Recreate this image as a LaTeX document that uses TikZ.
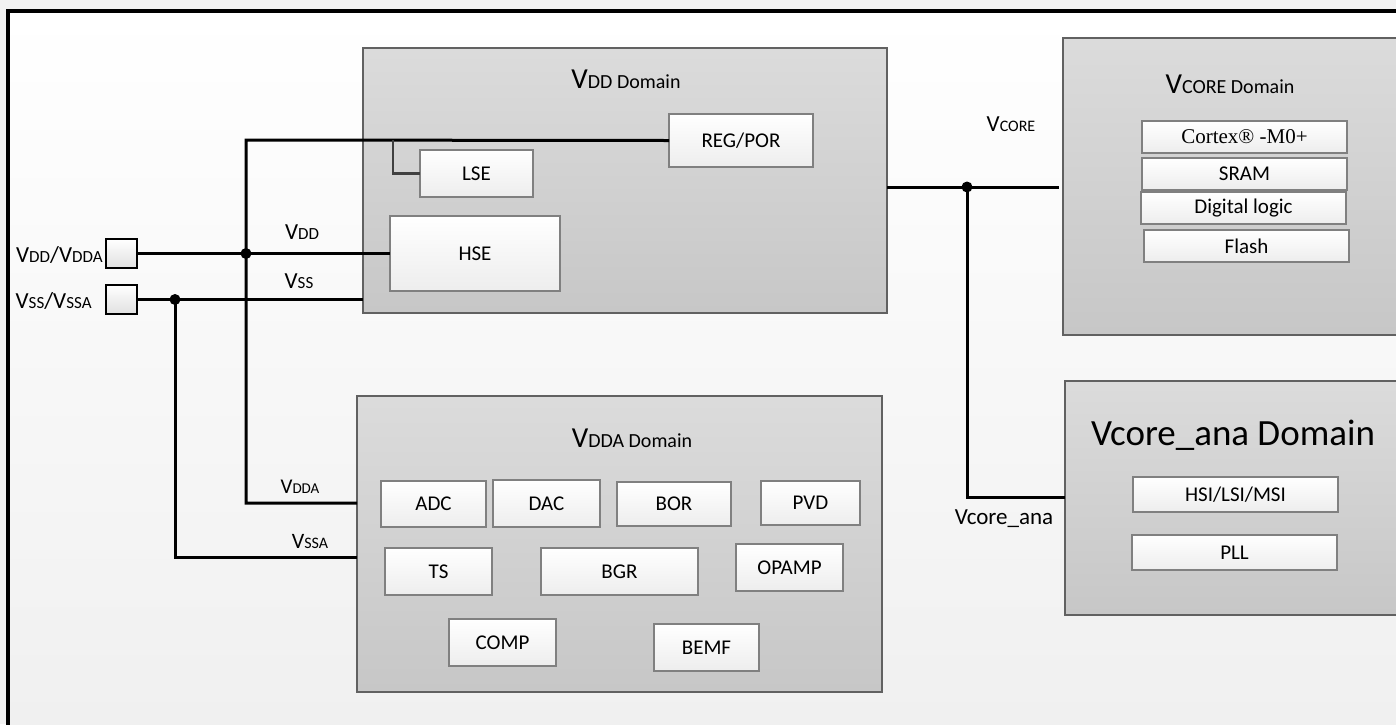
\documentclass[tikz,border=0pt]{standalone}
\usepackage{fontspec}
\setmainfont{Carlito}
\newfontfamily\tnr{Liberation Serif}
\newcommand\fs[1]{\fontsize{#1}{#1}\selectfont}
\begin{document}
\begin{tikzpicture}[x=0.5pt,y=-0.5pt,
  wire/.style={line width=1.5pt, black},
  thin wire/.style={line width=1.2pt, black!75},
  dom/.style={draw=black!62, line width=0.9pt, top color=black!14, bottom color=black!22, inner sep=0pt, outer sep=0pt, anchor=north west},
  blk/.style={draw=black!50, line width=0.7pt, top color=white, bottom color=black!7, inner sep=0pt, outer sep=0pt, anchor=north west, font=\fs{10.5}},
  pad/.style={draw=black, line width=1.4pt, top color=white, bottom color=black!12, inner sep=0pt, outer sep=0pt, anchor=north west},
  sz/.style 2 args={minimum width=#1*0.5pt, minimum height=#2*0.5pt},
  dot/.style={circle, fill=black, inner sep=0pt, minimum size=5.5pt},
  lbl/.style={inner sep=0pt, anchor=base}]
\useasboundingbox (0,0) rectangle (1396,724);
\clip (0,0) rectangle (1396,724);
% background and outer frame
\fill[black!5] (0,0) rectangle (1396,724);
\shade[top color=white, bottom color=black!6] (7.5,10.5) rectangle (1420,740);
\draw[line width=2pt] (7.5,10.5) rectangle (1420,740);

% domains
\node[dom, sz={524}{265}] (vdd) at (363,48) {};
\node[dom, sz={357}{297}] (vcore) at (1063,38) {};
\node[dom, sz={355}{234}] (cana) at (1065,381) {};
\node[dom, sz={525}{296}] (vdda) at (357,396) {};

% domain titles
\node[lbl] (tvdd) at (626,88) {\fs{14.5}V\fs{10}DD Domain};
\node[lbl] (tvcore) at (1230,93) {\fs{14.5}V\fs{10}CORE Domain};
\node[lbl] (tvdda) at (632,447) {\fs{14.5}V\fs{10}DDA Domain};
\node[lbl] (tcana) at (1233,445) {\fs{18.5}Vcore\_ana Domain};

% VDD domain blocks
\node[blk, sz={144}{53}] (reg) at (669,114) {REG/POR};
\node[blk, sz={113}{47}] (lse) at (420,150) {LSE};
\node[blk, sz={170}{75}] (hse) at (390,216) {HSE};

% VCORE domain blocks
\node[blk, sz={205}{32}] (cortex) at (1142,121) {\tnr\fs{10.5}Cortex® -M0+};
\node[blk, sz={205}{32}] (sram) at (1142,158) {SRAM};
\node[blk, sz={205}{32}] (dig) at (1141,192) {Digital logic};
\node[blk, sz={205}{32}] (flash) at (1144,230) {Flash};

% Vcore_ana blocks
\node[blk, sz={205}{35}] (hsi) at (1133,477) {HSI/LSI/MSI};
\node[blk, sz={205}{35}] (pll) at (1132,535) {PLL};

% VDDA blocks
\node[blk, sz={105}{46}] (adc) at (381,481) {ADC};
\node[blk, sz={107}{47}] (dac) at (493,480) {DAC};
\node[blk, sz={114}{44}] (bor) at (617,482) {BOR};
\node[blk, sz={99}{44}] (pvd) at (761,481) {PVD};
\node[blk, sz={107}{47}] (ts) at (385,548) {TS};
\node[blk, sz={157}{47}] (bgr) at (541,548) {BGR};
\node[blk, sz={107}{47}] (opamp) at (736,544) {OPAMP};
\node[blk, sz={107}{47}] (comp) at (449,619) {COMP};
\node[blk, sz={105}{47}] (bemf) at (654,624) {BEMF};

% pads
\node[pad, sz={31}{29}] (p1) at (106,239) {};
\node[pad, sz={31}{29}] (p2) at (106,285) {};
\node[lbl, anchor=base east] (lp1) at (103,262) {\fs{11.5}V\fs{8.5}DD\fs{11.5}/V\fs{8.5}DDA};
\node[lbl, anchor=base east] (lp2) at (92,308) {\fs{11.5}V\fs{8.5}SS\fs{11.5}/V\fs{8.5}SSA};

% wire coordinates
\coordinate (jv) at (246,253.5);
\coordinate (tv) at (246,140);
\coordinate (tl) at (393,140);
\coordinate (av) at (246,503);
\coordinate (js) at (175,299.5);
\coordinate (as) at (175,557);
\coordinate (jc) at (967,187);
\coordinate (ce) at (1059,187);
\coordinate (cb) at (967,497);

% wires
\draw[wire] (p1.east) -- (hse.west);
\draw[wire] (p2.east) -- (p2.east -| vdd.west);
\draw[wire] (reg.west) -- (tv) -- (av) -- (av -| vdda.west);
\draw[thin wire] (tl) |- (lse.west);
\draw[wire] (js) -- (as) -- (as -| vdda.west);
\draw[wire] (ce -| vdd.east) -- (ce);
\draw[wire] (jc) -- (cb) -- (cb -| cana.west);
\node[dot] (d1) at (jv) {};
\node[dot] (d2) at (js) {};
\node[dot] (d3) at (jc) {};

% wire labels
\node[lbl] (lvdd) at (302,239) {\fs{11.5}V\fs{8.5}DD};
\node[lbl] (lvss) at (299,288) {\fs{11.5}V\fs{8.5}SS};
\node[lbl] (lvdda) at (300,493) {\fs{10.5}V\fs{7.5}DDA};
\node[lbl] (lvssa) at (310,548) {\fs{11}V\fs{8}SSA};
\node[lbl] (lvcore) at (1011,131) {\fs{11.5}V\fs{8}CORE};
\node[lbl] (lcana) at (1004,524) {\fs{11.5}Vcore\_ana};
\end{tikzpicture}
\end{document}
